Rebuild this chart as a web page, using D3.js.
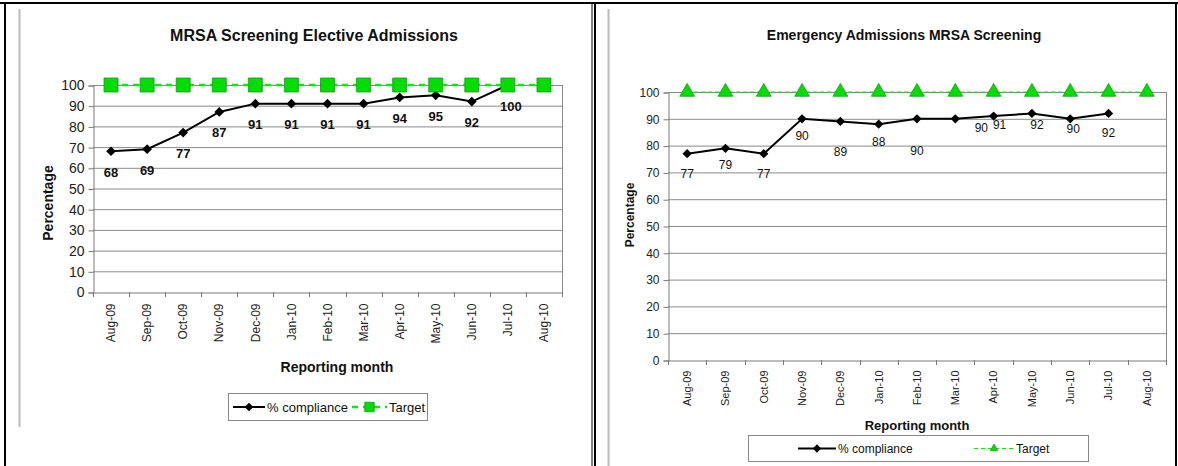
<!DOCTYPE html>
<html>
<head>
<meta charset="utf-8">
<script src="https://cdn.jsdelivr.net/npm/d3@7"></script>
<style>
  body { margin: 0; background: #fff; }
  svg { display: block; font-family: "Liberation Sans", Arial, sans-serif; }
</style>
</head>
<body>
<div id="container"></div>
<script>
const months = ['Aug-09', 'Sep-09', 'Oct-09', 'Nov-09', 'Dec-09', 'Jan-10', 'Feb-10', 'Mar-10', 'Apr-10', 'May-10', 'Jun-10', 'Jul-10', 'Aug-10']
const yTicks = [0, 10, 20, 30, 40, 50, 60, 70, 80, 90, 100]

const electiveCompliance = [68, 69, 77, 87, 91, 91, 91, 91, 94, 95, 92, 100, null]
const electiveTarget = [100, 100, 100, 100, 100, 100, 100, 100, 100, 100, 100, 100, 100]

const emergencyCompliance = [77, 79, 77, 90, 89, 88, 90, 90, 91, 92, 90, 92, null]
const emergencyTarget = [100, 100, 100, 100, 100, 100, 100, 100, 100, 100, 100, 100, 100]

const w = 1178
const h = 466

const svg = d3.select('#container')
    .append('svg')
    .attr('width', w)
    .attr('height', h)

// page frame (table borders)
svg.append('line').attr('x1', 0).attr('x2', w).attr('y1', 3).attr('y2', 3).attr('stroke', '#000').attr('stroke-width', 2)
svg.append('line').attr('x1', 5).attr('x2', 5).attr('y1', 2).attr('y2', h).attr('stroke', '#000').attr('stroke-width', 2)
svg.append('line').attr('x1', 592).attr('x2', 592).attr('y1', 2).attr('y2', h).attr('stroke', '#000').attr('stroke-width', 1)
svg.append('line').attr('x1', 595).attr('x2', 595).attr('y1', 2).attr('y2', h).attr('stroke', '#000').attr('stroke-width', 2)
svg.append('line').attr('x1', 1176).attr('x2', 1176).attr('y1', 2).attr('y2', h).attr('stroke', '#000').attr('stroke-width', 2)
svg.append('line').attr('x1', 19.5).attr('x2', 19.5).attr('y1', 9).attr('y2', 427).attr('stroke', '#bbb').attr('stroke-width', 2)
svg.append('line').attr('x1', 608.5).attr('x2', 608.5).attr('y1', 9).attr('y2', h).attr('stroke', '#bbb').attr('stroke-width', 2)

function drawChart(cfg) {
    const g = svg.append('g')

    const x = d3.scaleBand().domain(months).range([cfg.left, cfg.right])
    const y = d3.scaleLinear().domain([0, 100]).range([cfg.bottom, cfg.top])
    const cx = m => x(m) + x.bandwidth() / 2

    // title
    g.append('text')
        .attr('x', cfg.titleX)
        .attr('y', cfg.titleY)
        .attr('text-anchor', 'middle')
        .attr('font-weight', 'bold')
        .attr('font-size', cfg.titleSize)
        .attr('fill', '#111')
        .text(cfg.title)

    // gridlines
    g.append('g')
        .selectAll('line')
        .data(yTicks.filter(t => t > 0))
        .join('line')
        .attr('x1', cfg.left)
        .attr('x2', cfg.right)
        .attr('y1', d => y(d) + 0.5)
        .attr('y2', d => y(d) + 0.5)
        .attr('stroke', '#8a8a8a')

    // right border of plot area
    g.append('line')
        .attr('x1', cfg.right + 0.5).attr('x2', cfg.right + 0.5)
        .attr('y1', y(100)).attr('y2', y(0))
        .attr('stroke', '#8a8a8a')

    const axisY = d3.axisLeft(y).tickValues(yTicks).tickSize(5).tickPadding(4)
    const gy = g.append('g')
        .attr('transform', `translate(${cfg.left + 0.5},0.5)`)
        .call(axisY)
    gy.selectAll('path, line').attr('stroke', '#7a7a7a')
    gy.selectAll('text').attr('font-size', cfg.tickSize).attr('font-family', 'Liberation Sans, Arial, sans-serif').attr('fill', '#222')

    const axisX = d3.axisBottom(x).tickSize(0).tickPadding(0)
    const gx = g.append('g')
        .attr('transform', `translate(0,${cfg.bottom + 0.5})`)
        .call(axisX)
    gx.select('.domain').attr('stroke', '#7a7a7a')
    gx.selectAll('text')
        .attr('font-size', cfg.xTickSize)
        .attr('font-family', 'Liberation Sans, Arial, sans-serif')
        .attr('fill', '#222')
        .attr('transform', `translate(0,${cfg.xLabelGap}) rotate(-90)`)
        .attr('text-anchor', 'end')
        .attr('dy', '0.35em')
        .attr('y', 0)
        .attr('x', 0)
    // tick marks at band boundaries
    g.append('g')
        .selectAll('line')
        .data(months.concat(['end']))
        .join('line')
        .attr('x1', (d, i) => Math.round(cfg.left + i * x.step()) + 0.5)
        .attr('x2', (d, i) => Math.round(cfg.left + i * x.step()) + 0.5)
        .attr('y1', cfg.bottom)
        .attr('y2', cfg.bottom + 5)
        .attr('stroke', '#7a7a7a')

    // axis titles
    g.append('text')
        .attr('transform', `translate(${cfg.yTitleX},${cfg.yTitleY}) rotate(-90)`)
        .attr('text-anchor', 'middle')
        .attr('dy', '0.35em')
        .attr('font-weight', 'bold')
        .attr('font-size', cfg.yTitleSize)
        .attr('fill', '#111')
        .text('Percentage')

    g.append('text')
        .attr('x', cfg.xTitleX)
        .attr('y', cfg.xTitleY)
        .attr('text-anchor', 'middle')
        .attr('dy', '0.35em')
        .attr('font-weight', 'bold')
        .attr('font-size', cfg.xTitleSize)
        .attr('fill', '#111')
        .text('Reporting month')

    // target line
    const targetPts = months.map((m, i) => [m, cfg.target[i]])
    g.append('path')
        .datum(targetPts)
        .attr('d', d3.line().x(d => cx(d[0])).y(d => y(d[1])))
        .attr('fill', 'none')
        .attr('stroke', '#00ee00')
        .attr('stroke-width', cfg.targetWidth)
        .attr('stroke-dasharray', cfg.targetDash)

    // compliance line
    const compPts = months.map((m, i) => [m, cfg.compliance[i]]).filter(d => d[1] != null)
    g.append('path')
        .datum(compPts)
        .attr('d', d3.line().x(d => cx(d[0])).y(d => y(d[1])))
        .attr('fill', 'none')
        .attr('stroke', '#000')
        .attr('stroke-width', 2)

    g.append('g')
        .selectAll('path')
        .data(compPts)
        .join('path')
        .attr('d', d3.symbol(d3.symbolDiamond2, cfg.diamondSize))
        .attr('transform', d => `translate(${cx(d[0])},${y(d[1])})`)
        .attr('fill', '#000')

    // target markers
    g.append('g')
        .selectAll('path')
        .data(targetPts)
        .join('path')
        .attr('d', cfg.targetMarker)
        .attr('transform', d => `translate(${cx(d[0])},${y(d[1])})`)
        .attr('fill', '#00dd00')
        .attr('stroke', '#1a9a1a')
        .attr('stroke-width', 0.8)

    // data labels
    g.append('g')
        .selectAll('text')
        .data(compPts)
        .join('text')
        .attr('x', (d, i) => cx(d[0]) + cfg.nudge[i][0])
        .attr('y', (d, i) => y(d[1]) + cfg.nudge[i][1])
        .attr('text-anchor', 'middle')
        .attr('dy', '0.35em')
        .attr('font-size', cfg.labelSize)
        .attr('font-weight', cfg.labelWeight)
        .attr('fill', '#111')
        .text(d => d[1])

    // legend
    const lg = g.append('g').attr('transform', `translate(${cfg.legend.x},${cfg.legend.y})`)
    lg.append('rect')
        .attr('x', 0.5).attr('y', 0.5)
        .attr('width', cfg.legend.w).attr('height', cfg.legend.h)
        .attr('fill', '#fff')
        .attr('stroke', '#888')
    const my = cfg.legend.h / 2 + 0.5
    const l1 = cfg.legend.items[0]
    lg.append('line').attr('x1', l1.x).attr('x2', l1.x + l1.len).attr('y1', my).attr('y2', my).attr('stroke', '#000').attr('stroke-width', 2)
    lg.append('path').attr('d', d3.symbol(d3.symbolDiamond2, cfg.diamondSize * 0.8)).attr('transform', `translate(${l1.x + l1.len / 2},${my})`).attr('fill', '#000')
    lg.append('text').attr('x', l1.x + l1.len + 2).attr('y', my).attr('dy', '0.35em').attr('font-size', cfg.legend.size).attr('fill', '#111').text('% compliance')
    const l2 = cfg.legend.items[1]
    lg.append('line').attr('x1', l2.x).attr('x2', l2.x + l2.len).attr('y1', my).attr('y2', my).attr('stroke', '#00ee00').attr('stroke-width', cfg.targetWidth).attr('stroke-dasharray', cfg.targetDash)
    lg.append('path').attr('d', cfg.legend.marker).attr('transform', `translate(${l2.x + l2.len / 2},${my})`).attr('fill', '#00dd00').attr('stroke', '#1a9a1a').attr('stroke-width', 0.8)
    lg.append('text').attr('x', l2.x + l2.len + 2).attr('y', my).attr('dy', '0.35em').attr('font-size', cfg.legend.size).attr('fill', '#111').text('Target')
}

const squareMarker = d3.symbol(d3.symbolSquare, 196)()
const triangleMarker = d3.symbol(d3.symbolTriangle, 95)()

drawChart({
    title: 'MRSA Screening Elective Admissions',
    titleX: 314, titleY: 41, titleSize: 16,
    left: 93, right: 562, top: 85, bottom: 292,
    tickSize: 14, xTickSize: 12, xLabelGap: 11,
    yTitleX: 48, yTitleY: 203, yTitleSize: 14,
    xTitleX: 337, xTitleY: 367, xTitleSize: 14,
    compliance: electiveCompliance,
    target: electiveTarget,
    targetWidth: 2.5, targetDash: '6,5',
    diamondSize: 60,
    targetMarker: squareMarker,
    labelSize: 13, labelWeight: 'bold',
    nudge: [[0, 21], [0, 21], [0, 21], [0, 21], [0, 21], [0, 21], [0, 21], [0, 21], [0, 21], [0, 21], [0, 21], [3, 21]],
    legend: {
        x: 228, y: 393, w: 199, h: 27, size: 13,
        marker: d3.symbol(d3.symbolSquare, 90)(),
        items: [{ x: 5, len: 32 }, { x: 124, len: 35 }]
    }
})

drawChart({
    title: 'Emergency Admissions MRSA Screening',
    titleX: 904, titleY: 40, titleSize: 14,
    left: 668, right: 1166, top: 92, bottom: 360,
    tickSize: 12, xTickSize: 11, xLabelGap: 10,
    yTitleX: 630, yTitleY: 215, yTitleSize: 12,
    xTitleX: 917, xTitleY: 425, xTitleSize: 13,
    compliance: emergencyCompliance,
    target: emergencyTarget,
    targetWidth: 1.2, targetDash: '4,3',
    diamondSize: 55,
    targetMarker: triangleMarker,
    labelSize: 12, labelWeight: 'normal',
    nudge: [[0, 20], [0, 17], [0, 20], [0, 17], [0, 30], [0, 18], [0, 32], [26, 9], [6, 9], [5, 11], [3, 10], [0, 19]],
    legend: {
        x: 748, y: 435, w: 340, h: 26, size: 12,
        marker: d3.symbol(d3.symbolTriangle, 25)(),
        items: [{ x: 50, len: 38 }, { x: 226, len: 40 }]
    }
})
</script>
</body>
</html>
